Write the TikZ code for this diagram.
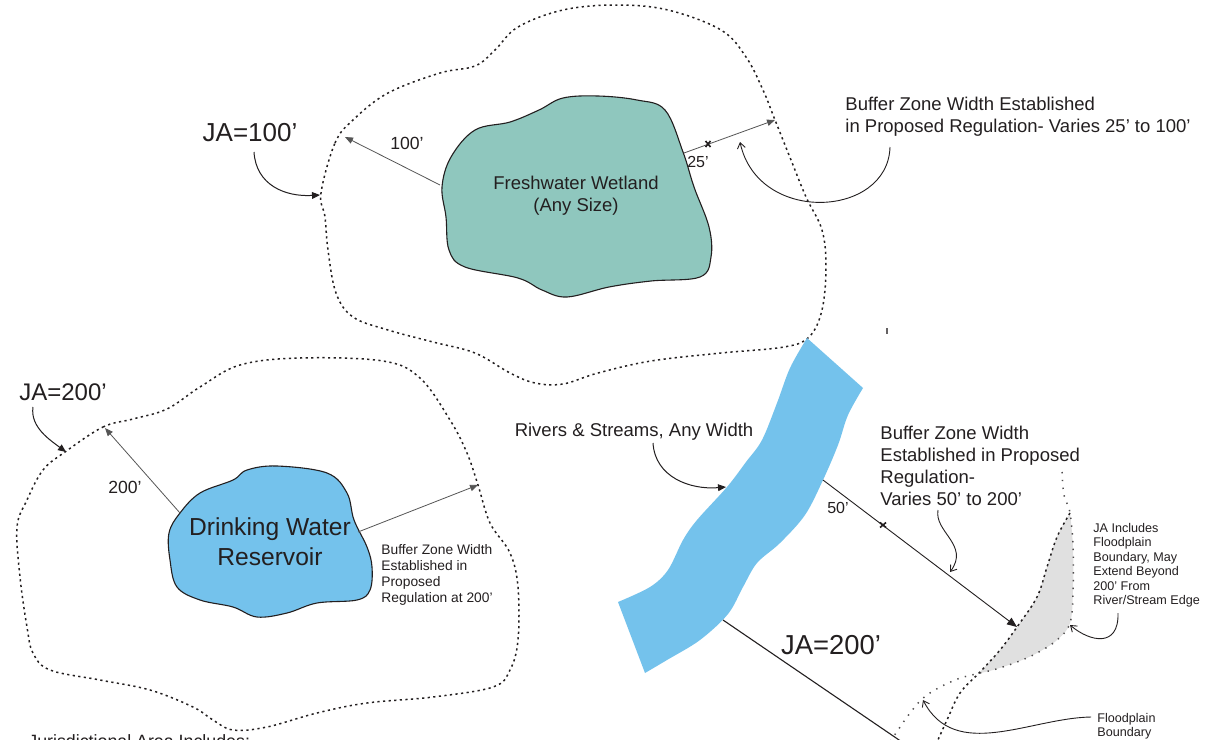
\documentclass[tikz,border=0pt]{standalone}
\usepackage{fontspec}
\setmainfont{Liberation Sans}
\usetikzlibrary{arrows.meta}
\definecolor{wet}{HTML}{8FC7BE}
\definecolor{water}{HTML}{74C2EC}
\definecolor{flood}{HTML}{E0E0E0}
\definecolor{ink}{HTML}{231F20}
\definecolor{arr}{HTML}{555555}
\begin{document}
\begin{tikzpicture}[x=0.5pt,y=-0.5pt,
  lbl/.style={inner sep=0pt,text=ink,font=\fontsize{9.25pt}{11pt}\selectfont},
  lblbig/.style={inner sep=0pt,text=ink,font=\fontsize{13pt}{15pt}\selectfont},
  lblsmall/.style={inner sep=0pt,text=ink,font=\fontsize{6.9pt}{8pt}\selectfont},
  lbltiny/.style={inner sep=0pt,text=ink,font=\fontsize{6.3pt}{7.2pt}\selectfont},
  jaline/.style={line width=0.75pt,draw=ink,dash pattern=on 1.1pt off 1.7pt},
  fpline/.style={line width=0.75pt,draw=ink!80,dash pattern=on 0.7pt off 3.2pt},
  dim/.style={line width=0.4pt,draw=arr,-{Triangle[length=4pt,width=3.2pt]}},
  callf/.style={line width=0.5pt,draw=ink,-{Triangle[length=4pt,width=3.4pt]}},
  callo/.style={line width=0.45pt,draw=ink,-{Straight Barb[length=2.8pt,width=4pt]}},
  blob/.style={line width=0.55pt,draw=ink},
  tick/.style={line width=0.8pt,draw=ink}]
\useasboundingbox (0,0) rectangle (1214,739);
\fill[white] (0,0) rectangle (1214,739);

% ---------- Top: freshwater wetland ----------
\draw[jaline] plot[smooth cycle,tension=0.6] coordinates {
 (321,193) (335,143) (353,120) (388,93) (440,73) (475,66) (495,50) (518,27)
 (563,10) (616,5) (668,10) (721,30) (746,57) (763,90) (775,120) (791,160)
 (806,197) (822,230) (826,267) (822,310) (809,337) (784,347) (721,353)
 (651,361) (598,373) (563,384) (535,383) (510,373) (475,353) (433,342)
 (388,330) (353,317) (336,293) (328,250) (325,217)};
\draw[blob,fill=wet] plot[smooth cycle,tension=0.6] coordinates {
 (442,187) (451,157) (475,130) (510,122) (539,110) (563,98) (598,96)
 (637,100) (665,110) (683,152) (694,187) (709,227) (711,257) (700,277)
 (651,281) (609,287) (567,297) (542,290) (518,278) (465,267) (449,250) (446,217)};

\coordinate (w100s) at (440,185);
\coordinate (w100e) at (345,137);
\coordinate (w25s) at (684,153);
\coordinate (w25e) at (775,120);
\coordinate (w25t) at (708,144);
\draw[dim] (w100s) -- (w100e);
\draw[dim] (w25s) -- (w25e);
\draw[tick] (w25t) +(-2.5,-3) -- +(2.5,3) +(-2.5,3) -- +(2.5,-3);

\node[lbl] (wetland) at (576,196) [align=center] {Freshwater Wetland\\(Any Size)};
\node[lbl,font=\fontsize{8.8pt}{10pt}\selectfont] (l100) at (407,143) {100’};
\node[lbl,font=\fontsize{8pt}{9pt}\selectfont] (l25) at (698,162) {25’};
\node[lblbig] (ja100) at (250,133) {JA=100’};
\node[lbl,anchor=north west,align=left] (buf1) at (845,97)
 {Buffer Zone Width Established\\in Proposed Regulation- Varies 25’ to 100’};

\coordinate (ja100s) at (254,152);
\coordinate (ja100e) at (320,195);
\draw[callf] (ja100s) .. controls (256,185) and (285,197) .. (ja100e);
\coordinate (buf1s) at (890,147);
\coordinate (buf1e) at (740,142);
\draw[callo] (buf1s) .. controls (888,218) and (758,225) .. (buf1e);

% ---------- Bottom left: reservoir ----------
\draw[jaline] plot[smooth cycle,tension=0.6] coordinates {
 (65,452) (103,427) (133,419) (167,409) (200,387) (240,365) (300,358)
 (383,361) (420,378) (450,420) (467,453) (478,485) (490,523) (510,553)
 (518,587) (518,640) (510,670) (493,687) (433,697) (367,703) (317,713)
 (267,727) (233,730) (213,720) (193,707) (150,690) (100,680) (50,670)
 (33,653) (27,627) (20,577) (17,527) (27,500) (43,470)};
\draw[blob,fill=water] plot[smooth cycle,tension=0.6] coordinates {
 (180,513) (200,493) (233,480) (247,470) (277,466) (327,473) (347,493)
 (354,520) (367,547) (372,567) (370,590) (357,600) (317,603) (287,613)
 (257,617) (233,607) (200,600) (177,587) (170,560) (169,533)};

\coordinate (r200s) at (180,513);
\coordinate (r200e) at (105,428);
\coordinate (rbs) at (358,532);
\coordinate (rbe) at (478,485);
\draw[dim] (r200s) -- (r200e);
\draw[dim] (rbs) -- (rbe);

\node[inner sep=0pt,text=ink,font=\fontsize{12.3pt}{15pt}\selectfont,align=center] (res) at (270,542)
 {Drinking Water\\Reservoir};
\node[lbl,font=\fontsize{8.8pt}{10pt}\selectfont] (l200) at (125,487) {200’};
\node[lblbig,font=\fontsize{12pt}{14pt}\selectfont] (ja200a) at (63,392) {JA=200’};
\node[lblsmall,anchor=north west,align=left] (buf2) at (381,544)
 {Buffer Zone Width\\Established in\\Proposed\\Regulation at 200’};
\coordinate (ja200as) at (33,407);
\coordinate (ja200ae) at (66,452);
\draw[callf] (ja200as) .. controls (30,427) and (50,440) .. (ja200ae);

\node[lbl,anchor=north west,font=\fontsize{8.9pt}{10pt}\selectfont] (juris) at (28,734)
 {Jurisdictional Area Includes:};

% ---------- Bottom right: river ----------
\fill[water] (807,338) -- (863,388)
 -- plot[smooth,tension=0.55] coordinates {(863,388) (848,415) (838,445) (823,480)
   (805,515) (780,543) (757,563) (743,587) (728,614) (700,640) (667,660) (645,673)}
 -- (618,602)
 -- plot[smooth,tension=0.55] coordinates {(618,602) (650,587) (668,570) (683,540)
   (697,520) (727,487) (746,462) (762,440) (777,403) (790,368) (807,338)}
 -- cycle;

% floodplain
\fill[flood] plot[smooth,tension=0.6] coordinates {(1070,513) (1057,537) (1047,567) (1037,597)
  (1017,627) (1000,650) (980,672)}
 -- plot[smooth,tension=0.6] coordinates {(980,673) (993,670) (1017,662) (1037,653)
  (1057,640) (1070,623) (1073,590) (1073,547) (1070,513)} -- cycle;
\draw[jaline] plot[smooth,tension=0.6] coordinates {(1070,513) (1057,537) (1047,567) (1037,597)
  (1017,627) (1000,650) (980,672) (960,693) (947,720) (937,742)};
\draw[fpline] plot[smooth,tension=0.6] coordinates {(1062,472) (1064,495) (1070,513)
  (1073,547) (1073,590) (1070,623) (1057,640) (1037,653) (1017,662) (993,670) (980,673)
  (955,680) (927,695) (910,713) (890,742)};
\coordinate (mk) at (887,328);
\draw[line width=0.6pt,draw=ink!70] (mk) -- +(0,6);

\coordinate (r50s) at (823,480);
\coordinate (r50e) at (1017,627);
\coordinate (r50t) at (883,525);
\draw[line width=0.45pt,draw=ink,-{Triangle[length=5pt,width=4pt]}] (r50s) -- (r50e);
\draw[tick] (r50t) +(-3,-2.5) -- +(3,2.5) +(-3,2.5) -- +(3,-2.5);
\coordinate (rjas) at (723,620);
\coordinate (rjae) at (902,742);
\draw[line width=0.55pt,draw=ink] (rjas) -- (rjae);

\node[lbl] (rivers) at (634,432) {Rivers \& Streams, Any Width};
\node[lbl,anchor=north west,align=left] (buf3) at (880,426)
 {Buffer Zone Width\\Established in Proposed\\Regulation-\\Varies 50’ to 200’};
\node[lbl,font=\fontsize{8pt}{9pt}\selectfont] (l50) at (838,508) {50’};
\node[lblbig,font=\fontsize{13.7pt}{16pt}\selectfont] (ja200b) at (831,645) {JA=200’};
\node[lbltiny,anchor=north west,align=left] (jainc) at (1093,523)
 {JA Includes\\Floodplain\\Boundary, May\\Extend Beyond\\200’ From\\River/Stream Edge};
\node[lbltiny,anchor=north west,align=left] (fpb) at (1097,713) {Floodplain\\Boundary};

\coordinate (rivs) at (653,443);
\coordinate (rive) at (726,487);
\draw[callf] (rivs) .. controls (655,477) and (690,490) .. (rive);
\coordinate (b3s) at (938,510);
\coordinate (b3e) at (950,572);
\draw[callo] (b3s) .. controls (934,532) and (970,545) .. (b3e);
\coordinate (jis) at (1118,613);
\coordinate (jie) at (1070,625);
\draw[callo] (jis) .. controls (1119,648) and (1090,642) .. (jie);
\coordinate (fbs) at (1091,717);
\coordinate (fbe) at (923,700);
\draw[callo] (fbs) .. controls (1030,718) and (955,762) .. (fbe);
\end{tikzpicture}
\end{document}
